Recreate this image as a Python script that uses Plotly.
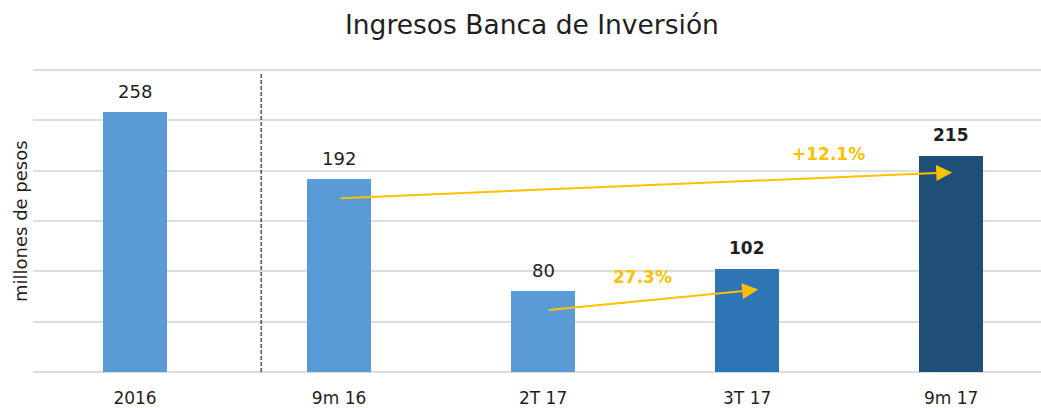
import plotly.graph_objects as go

categories = ["2016", "9m 16", "2T 17", "3T 17", "9m 17"]
values = [258, 192, 80, 102, 215]
bar_colors = ["#5B9BD5", "#5B9BD5", "#5B9BD5", "#2E75B6", "#1F4E79"]
bold_labels = [False, False, False, True, True]
growth_labels = ["27.3%", "+12.1%"]

FONT = "'DejaVu Sans', sans-serif"
TXT = "#1f1f1f"

fig = go.Figure()
fig.add_trace(go.Bar(
    x=categories, y=values, marker=dict(color=bar_colors, line=dict(width=0)),
    width=0.314, hoverinfo="skip", showlegend=False,
))

for i, v in enumerate(values):
    if bold_labels[i]:
        txt, sz = f"<b>{v}</b>", 17
    else:
        txt, sz = str(v), 18
    fig.add_annotation(x=i, y=v, xref="x", yref="y", text=txt, showarrow=False,
                       yanchor="bottom", yshift=8 if not bold_labels[i] else 9,
                       font=dict(size=sz, color=TXT, family=FONT))

# growth arrows
ARROW = "#FFC000"
fig.add_annotation(x=4.005, y=198.3, ax=1.0, ay=172.6, xref="x", yref="y",
                   axref="x", ayref="y", showarrow=True, arrowhead=2,
                   arrowsize=1.6, arrowwidth=2, arrowcolor=ARROW, text="")
fig.add_annotation(x=3.054, y=81.9, ax=2.02, ay=61.4, xref="x", yref="y",
                   axref="x", ayref="y", showarrow=True, arrowhead=2,
                   arrowsize=1.6, arrowwidth=2, arrowcolor=ARROW, text="")
fig.add_annotation(x=2.485, y=94, xref="x", yref="y", text=f"<b>{growth_labels[0]}</b>",
                   showarrow=False, font=dict(size=17, color=ARROW, family=FONT))
fig.add_annotation(x=3.397, y=216.8, xref="x", yref="y", text=f"<b>{growth_labels[1]}</b>",
                   showarrow=False, font=dict(size=17, color=ARROW, family=FONT))

# dashed separator
fig.add_shape(type="line", x0=0.618, x1=0.618, y0=0, y1=296, xref="x", yref="y",
              line=dict(color="#000000", width=1, dash="4px,2px"))

# y axis title as annotation
fig.add_annotation(x=0, y=0.5, xref="paper", yref="paper", xanchor="center",
                   yanchor="middle", xshift=-13, textangle=-90, showarrow=False,
                   text="millones de pesos", font=dict(size=18, color=TXT, family=FONT))

fig.update_layout(
    width=1041, height=408,
    margin=dict(l=33, r=0, t=67.5, b=34, autoexpand=False),
    plot_bgcolor="white", paper_bgcolor="white",
    title=dict(text="Ingresos Banca de Inversión", x=0.511, xanchor="center",
               y=0.9385, yanchor="middle",
               font=dict(size=26.5, color=TXT, family=FONT)),
    xaxis=dict(type="category", range=[-0.5, 4.44], showgrid=False, zeroline=False,
               showline=False, ticks="", automargin=False, ticklabelstandoff=12,
               tickfont=dict(size=17, color=TXT, family=FONT)),
    yaxis=dict(range=[-2, 302], tickvals=[0, 50, 100, 150, 200, 250, 300],
               showgrid=True, gridcolor="#DDDDDD", gridwidth=2,
               zeroline=False, showticklabels=False, ticks="", automargin=False),
    bargap=0,
    hovermode=False,
    font=dict(family=FONT),
)

fig.write_html(
    "out.html",
    config={"displayModeBar": False, "staticPlot": True},
    post_script="document.body.style.margin='0';document.documentElement.style.overflow='hidden';",
)
